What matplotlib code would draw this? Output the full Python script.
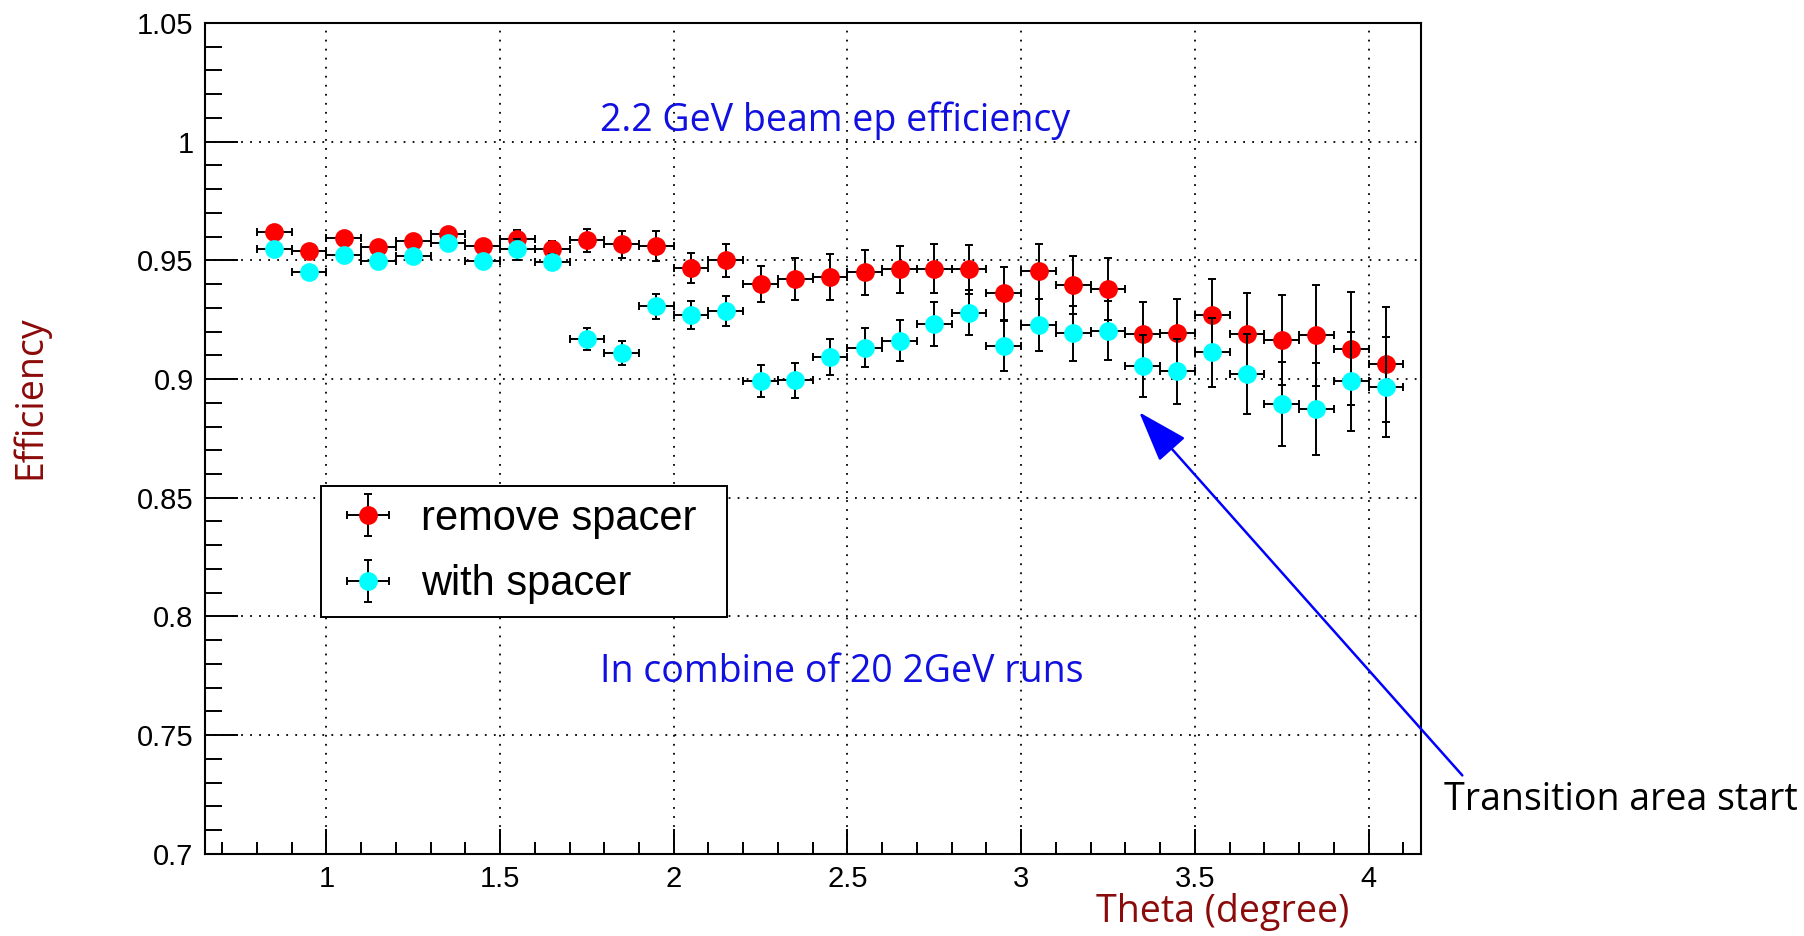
import matplotlib
matplotlib.use('Agg')
import matplotlib.pyplot as plt
from matplotlib.ticker import MultipleLocator

# Bin centres (degree) and half bin width
theta = [0.85, 0.95, 1.05, 1.15, 1.25, 1.35, 1.45, 1.55, 1.65, 1.75, 1.85,
         1.95, 2.05, 2.15, 2.25, 2.35, 2.45, 2.55, 2.65, 2.75, 2.85, 2.95,
         3.05, 3.15, 3.25, 3.35, 3.45, 3.55, 3.65, 3.75, 3.85, 3.95, 4.05]
theta_err = [0.05] * len(theta)

# remove spacer
eff_remove = [0.962, 0.954, 0.9595, 0.9556, 0.958, 0.961, 0.956, 0.959, 0.955,
              0.9584, 0.9567, 0.9559, 0.9468, 0.950, 0.940, 0.9423, 0.943,
              0.945, 0.9462, 0.9465, 0.9462, 0.9362, 0.9454, 0.9396, 0.938,
              0.9191, 0.9194, 0.9268, 0.9188, 0.9166, 0.9184, 0.9128, 0.9063]
err_remove = [0.002, 0.002, 0.002, 0.002, 0.002, 0.0028, 0.0025, 0.004, 0.003,
              0.0049, 0.0056, 0.0063, 0.0065, 0.0068, 0.0077, 0.0088, 0.0095,
              0.0095, 0.0099, 0.0103, 0.0103, 0.0112, 0.0117, 0.0122, 0.0131,
              0.0134, 0.0144, 0.0155, 0.0173, 0.019, 0.0214, 0.0237, 0.0242]

# with spacer
eff_with = [0.955, 0.9451, 0.9521, 0.9497, 0.9518, 0.9574, 0.9496, 0.9546,
            0.9493, 0.9168, 0.9111, 0.9307, 0.9269, 0.9287, 0.8992, 0.8994,
            0.9093, 0.9132, 0.9162, 0.9233, 0.928, 0.9139, 0.9228, 0.9192,
            0.9204, 0.9056, 0.9032, 0.9112, 0.902, 0.8893, 0.8873, 0.899, 0.8966]
err_with = [0.002, 0.002, 0.002, 0.002, 0.002, 0.002, 0.002, 0.0043, 0.0033,
            0.0047, 0.005, 0.0053, 0.006, 0.0063, 0.0067, 0.0073, 0.0077,
            0.0082, 0.0087, 0.0093, 0.0096, 0.0107, 0.011, 0.0114, 0.0125,
            0.013, 0.0138, 0.0146, 0.0169, 0.0177, 0.0194, 0.0208, 0.0211]

fig = plt.figure(figsize=(18.04, 9.36), dpi=100)
ax = fig.add_axes([0.1135, 0.0879, 0.674, 0.8875])

style = dict(fmt='o', ms=13.5, mec='none', ecolor='black', elinewidth=1.4,
             capsize=2.8, capthick=1.4)
ax.errorbar(theta, eff_remove, xerr=theta_err, yerr=err_remove,
            color='#ff0000', label='remove spacer', zorder=3, **style)
ax.errorbar(theta, eff_with, xerr=theta_err, yerr=err_with,
            color='#00ffff', label='with spacer', zorder=4, **style)

ax.set_xlim(0.65, 4.15)
ax.set_ylim(0.7, 1.05)
ax.xaxis.set_minor_locator(MultipleLocator(0.1))
ax.yaxis.set_minor_locator(MultipleLocator(0.01))
ax.set_yticks([0.7, 0.75, 0.8, 0.85, 0.9, 0.95, 1.0, 1.05])
ax.set_yticklabels(['0.7', '0.75', '0.8', '0.85', '0.9', '0.95', '1', '1.05'])
ax.set_xticks([1, 1.5, 2, 2.5, 3, 3.5, 4])
ax.set_xticklabels(['1', '1.5', '2', '2.5', '3', '3.5', '4'])

ax.tick_params(which='both', direction='in', top=False, right=False,
               width=1.4, labelsize=21)
ax.tick_params(axis='y', which='major', length=24, pad=8)
ax.tick_params(axis='y', which='minor', length=12)
ax.tick_params(axis='x', which='major', length=18, pad=8)
ax.tick_params(axis='x', which='minor', length=9)
for lab in ax.get_xticklabels() + ax.get_yticklabels():
    lab.set_family('Liberation Sans')
for sp in ax.spines.values():
    sp.set_linewidth(1.5)

ax.grid(True, which='major', color='black', linestyle=(0, (1, 4)), linewidth=1.3)
ax.set_axisbelow(True)

ax.set_ylabel('Efficiency', color='#8b0a0a', fontsize=27, family='Open Sans')
ax.yaxis.set_label_coords(-0.128, 0.55)
ax.set_xlabel('Theta (degree)', color='#8b0a0a', fontsize=27, family='Open Sans')
ax.xaxis.set_label_coords(0.837, -0.047)

ax.text(0.325, 0.882, '2.2 GeV beam ep efficiency', transform=ax.transAxes,
        color='#1010e0', fontsize=27, family='Open Sans', va='center')
ax.text(0.325, 0.219, 'In combine of 20 2GeV runs', transform=ax.transAxes,
        color='#1010e0', fontsize=27, family='Open Sans', va='center')

ax.annotate('', xy=(3.34, 0.886), xytext=(4.27, 0.733),
            arrowprops=dict(arrowstyle='-|>,head_length=3.2,head_width=1.1',
                            mutation_scale=10, color='#0000ff', lw=1.8,
                            shrinkA=0, shrinkB=0),
            annotation_clip=False)
fig.text(0.8005, 0.145, 'Transition area start', fontsize=27,
         family='Open Sans', va='center', ha='left')

leg = ax.legend(loc='upper left', bbox_to_anchor=(0.0956, 0.2825, 0.3338, 0.16),
                mode='expand', borderaxespad=0, fancybox=False,
                edgecolor='black', framealpha=1,
                prop={'family': 'Liberation Sans', 'size': 30},
                handlelength=1.66, handletextpad=0.45, labelspacing=0.62,
                borderpad=0.3)
leg.get_frame().set_linewidth(1.4)

fig.savefig('out.png', dpi=100)
